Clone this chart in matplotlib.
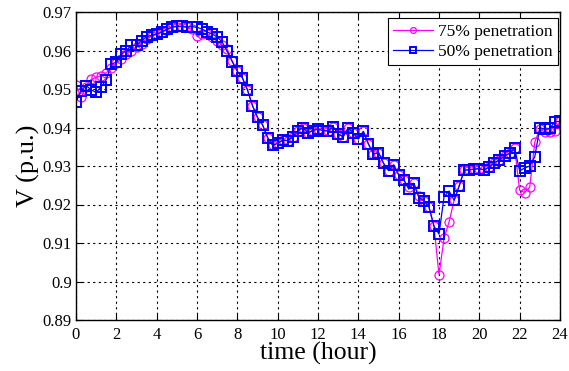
import numpy as np
import matplotlib
matplotlib.use("Agg")
import matplotlib.pyplot as plt
from matplotlib.ticker import FuncFormatter

time_h = np.arange(0, 24.01, 0.25)

v50 = [0.9466, 0.9496, 0.9509, 0.9498, 0.9491, 0.9506, 0.9524, 0.9564,
       0.9570, 0.9590, 0.9600, 0.9613, 0.9613, 0.9625, 0.9636, 0.9639,
       0.9643, 0.9648, 0.9655, 0.9661, 0.9663, 0.9663, 0.9661, 0.9662,
       0.9660, 0.9656, 0.9648, 0.9643, 0.9635, 0.9622, 0.9598, 0.9571,
       0.9546, 0.9529, 0.9498, 0.9457, 0.9426, 0.9407, 0.9374, 0.9354,
       0.9359, 0.9367, 0.9366, 0.9376, 0.9391, 0.9400, 0.9386, 0.9392,
       0.9396, 0.9392, 0.9391, 0.9402, 0.9383, 0.9376, 0.9399, 0.9385,
       0.9370, 0.9390, 0.9357, 0.9331, 0.9335, 0.9307, 0.9288, 0.9303,
       0.9277, 0.9264, 0.9240, 0.9255, 0.9218, 0.9210, 0.9194, 0.9144,
       0.9123, 0.9220, 0.9235, 0.9211, 0.9248, 0.9289, 0.9290, 0.9292,
       0.9293, 0.9290, 0.9298, 0.9308, 0.9316, 0.9326, 0.9333, 0.9346,
       0.9287, 0.9295, 0.9300, 0.9324, 0.9400, 0.9395, 0.9398, 0.9415,
       0.9416]

v75 = [0.9511, 0.9478, 0.9505, 0.9525, 0.9530, 0.9535, 0.9542, 0.9555,
       0.9567, 0.9578, 0.9590, 0.9600, 0.9608, 0.9618, 0.9630, 0.9637,
       0.9642, 0.9647, 0.9654, 0.9660, 0.9662, 0.9662, 0.9660, 0.9655,
       0.9637, 0.9643, 0.9642, 0.9635, 0.9624, 0.9615, 0.9603, 0.9572,
       0.9546, 0.9529, 0.9498, 0.9457, 0.9426, 0.9407, 0.9374, 0.9354,
       0.9359, 0.9367, 0.9366, 0.9376, 0.9391, 0.9400, 0.9386, 0.9392,
       0.9396, 0.9392, 0.9391, 0.9402, 0.9383, 0.9376, 0.9399, 0.9385,
       0.9370, 0.9390, 0.9357, 0.9331, 0.9335, 0.9307, 0.9288, 0.9303,
       0.9277, 0.9264, 0.9245, 0.9255, 0.9222, 0.9210, 0.9194, 0.9144,
       0.9017, 0.9112, 0.9155, 0.9211, 0.9248, 0.9289, 0.9290, 0.9292,
       0.9293, 0.9290, 0.9298, 0.9308, 0.9316, 0.9326, 0.9333, 0.9346,
       0.9237, 0.9231, 0.9245, 0.9362, 0.9396, 0.9388, 0.9388, 0.9392,
       0.9416]

labels = ["75% penetration", "50% penetration"]
xticks = list(range(0, 25, 2))
yticks = [0.89, 0.90, 0.91, 0.92, 0.93, 0.94, 0.95, 0.96, 0.97]

plt.rcParams['font.family'] = ['Liberation Serif', 'DejaVu Serif']

fig = plt.figure(figsize=(5.69, 3.71), dpi=100)
ax = fig.add_axes([76/569, 1-320/371, (560-76)/569, (320-12)/371])

ax.plot(time_h, v75, color='#FF00FF', marker='o', markersize=6.5,
        markerfacecolor='none', markeredgecolor='#FF00FF', markeredgewidth=0.9,
        linewidth=0.9, label=labels[0])
ax.plot(time_h, v50, color='#0000FF', marker='s', markersize=6.5,
        markerfacecolor='none', markeredgecolor='#0000FF', markeredgewidth=1.4,
        linewidth=0.9, label=labels[1])

ax.set_xlim(0, 24)
ax.set_ylim(0.89, 0.97)
ax.set_xticks(xticks)
ax.set_yticks(yticks)
ax.yaxis.set_major_formatter(FuncFormatter(lambda v, p: f"{v:g}"))
ax.tick_params(direction='in', labelsize=12, length=4, width=0.8,
               top=True, right=True)
ax.tick_params(axis='x', pad=5)
ax.tick_params(axis='y', pad=3)
ax.grid(True, color='black', linestyle=(0, (2, 3)), linewidth=0.8)
for s in ax.spines.values():
    s.set_linewidth(1.0)

ax.set_xlabel("time (hour)", fontsize=18.5, labelpad=-1)
ax.set_ylabel("V (p.u.)", fontsize=19, labelpad=2)

leg = ax.legend(loc='upper right', bbox_to_anchor=(0.9959, 0.9795),
                fontsize=12.5, fancybox=False, edgecolor='black',
                framealpha=1, borderaxespad=0, handlelength=2.3,
                handletextpad=0.3, borderpad=0.3, labelspacing=0.25,
                markerscale=0.65)
leg.get_frame().set_linewidth(0.8)

fig.savefig("out.png", dpi=100)
